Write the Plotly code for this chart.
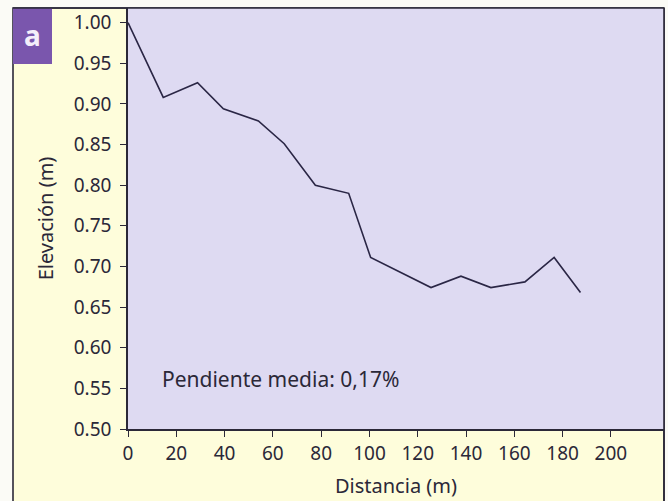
import plotly.graph_objects as go

distancia = [0, 14.6, 28.8, 39.5, 54, 64.7, 77.6, 91.4, 100.5, 125.5, 137.9, 150.3, 164.4, 176.5, 187.4]
elevacion = [1.00, 0.908, 0.926, 0.894, 0.879, 0.851, 0.800, 0.790, 0.711, 0.674, 0.688, 0.674, 0.681, 0.711, 0.668]
x_ticks = [0, 20, 40, 60, 80, 100, 120, 140, 160, 180, 200]
y_ticks = [0.50, 0.55, 0.60, 0.65, 0.70, 0.75, 0.80, 0.85, 0.90, 0.95, 1.00]
nota = "Pendiente media: 0,17%"
etiqueta = "a"

FONT = "Noto Sans"
INK = "#2b2838"
FS = 19

fig = go.Figure()
fig.add_trace(go.Scatter(x=distancia, y=elevacion, mode="lines",
                         line=dict(color="#2a2645", width=1.6), showlegend=False,
                         hoverinfo="skip"))

W, H = 668, 501
L, R, T, B = 128, 4, 8, 72
pw, ph = W - L - R, H - T - B

def px_x(p):
    return (p - L) / pw

def px_y(p):
    return 1 - (p - T) / ph

fig.update_layout(
    width=W, height=H,
    margin=dict(l=L, r=R, t=T, b=B, autoexpand=False),
    paper_bgcolor="#fbfbf6",
    plot_bgcolor="#dedaf2",
    font=dict(family=FONT, color=INK, size=FS),
    xaxis=dict(range=[0, 222], tickvals=x_ticks, ticks="outside", ticklen=6,
               tickcolor=INK, tickwidth=1.2, showgrid=False, zeroline=False,
               showline=True, linecolor=INK, linewidth=1.6, automargin=False,
               title=dict(text="Distancia (m)", font=dict(size=20), standoff=14),
               tickfont=dict(size=FS)),
    yaxis=dict(range=[0.50, 1.018], tickvals=y_ticks, tickformat=".2f",
               ticks="outside", ticklen=6, tickcolor=INK, tickwidth=1.2,
               showgrid=False, zeroline=False, showline=True, linecolor=INK,
               linewidth=1.6, ticklabelstandoff=5, automargin=False,
               title=dict(text="Elevación (m)", font=dict(size=20), standoff=15),
               tickfont=dict(size=FS)),
    shapes=[
        dict(type="rect", xref="paper", yref="paper", layer="below",
             x0=px_x(13), x1=px_x(664), y0=px_y(520), y1=px_y(8),
             fillcolor="#fefddb", line=dict(color=INK, width=1.6)),
        dict(type="rect", xref="paper", yref="paper", layer="below",
             x0=0, x1=1, y0=0, y1=1,
             fillcolor="#dedaf2", line=dict(width=0)),
        dict(type="rect", xref="paper", yref="paper", layer="above",
             x0=px_x(13), x1=px_x(52), y0=px_y(64), y1=px_y(8),
             fillcolor="#7a56ad", line=dict(width=0)),
        dict(type="line", xref="paper", yref="paper", layer="above",
             x0=px_x(664), x1=px_x(664), y0=px_y(520), y1=px_y(8),
             line=dict(color=INK, width=1.6)),
        dict(type="line", xref="paper", yref="paper", layer="above",
             x0=px_x(13), x1=px_x(664), y0=px_y(8), y1=px_y(8),
             line=dict(color=INK, width=1.6)),
    ],
    annotations=[
        dict(x=13.2, y=0.561, xref="x", yref="y", text=nota, showarrow=False,
             xanchor="left", yanchor="middle", font=dict(size=21, color=INK)),
        dict(x=px_x(32.5), y=px_y(35), xref="paper", yref="paper", text="<b>" + etiqueta + "</b>",
             showarrow=False, xanchor="center", yanchor="middle",
             font=dict(size=28, color="#f4eefa")),
    ],
)

fig.write_html("out.html", config={"displayModeBar": False},
               post_script="document.body.style.margin='0';document.body.style.padding='0';")
